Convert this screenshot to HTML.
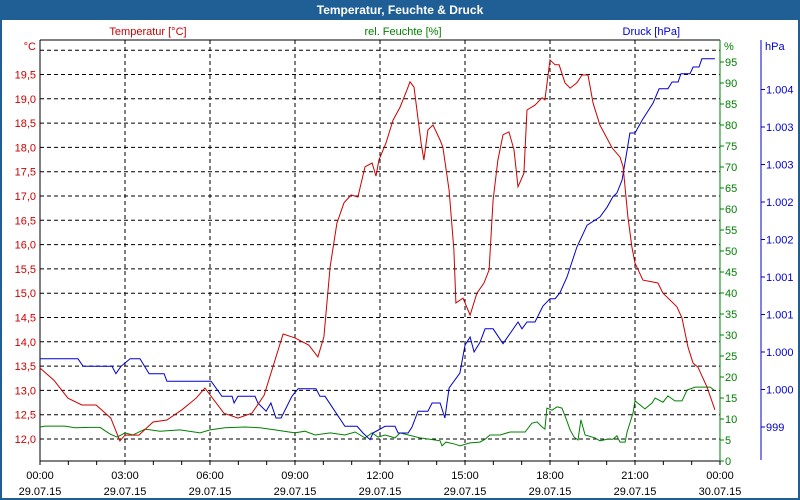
<!DOCTYPE html>
<html><head><meta charset="utf-8"><style>
body{margin:0;background:#fff;}
svg{display:block;font-family:"Liberation Sans",sans-serif;}
</style></head><body>
<svg id="chart" width="800" height="500" viewBox="0 0 800 500">
<rect x="0" y="0" width="800" height="500" fill="#1f5f96"/>
<rect x="2" y="20" width="796" height="478" fill="#fff"/>
<text x="400" y="14" text-anchor="middle" font-size="12" font-weight="bold" fill="#fff">Temperatur, Feuchte &amp; Druck</text>
<text x="148" y="35" text-anchor="middle" font-size="11" fill="#cc0000">Temperatur [°C]</text>
<text x="403" y="35" text-anchor="middle" font-size="11" fill="#008000">rel. Feuchte [%]</text>
<text x="680" y="35" text-anchor="end" font-size="11" fill="#0000cc">Druck [hPa]</text>
<g id="grid"></g>
<g id="axes"></g>
<g id="series"></g>
</svg>
<script>
const xTickLabels = ["00:00","03:00","06:00","09:00","12:00","15:00","18:00","21:00","00:00"];
const xDateLabels = ["29.07.15","29.07.15","29.07.15","29.07.15","29.07.15","29.07.15","29.07.15","29.07.15","30.07.15"];
const tempTicks = [12.0,12.5,13.0,13.5,14.0,14.5,15.0,15.5,16.0,16.5,17.0,17.5,18.0,18.5,19.0,19.5];
const humTicks = [0,5,10,15,20,25,30,35,40,45,50,55,60,65,70,75,80,85,90,95];
const presTicks = [999,999.5,1000,1000.5,1001,1001.5,1002,1002.5,1003,1003.5];

const tempTimes = [0,0.49,0.99,1.48,1.98,2.5,2.82,3.0,3.49,3.99,4.48,5.01,5.51,5.82,6.49,6.99,7.48,7.91,8.58,9.0,9.49,9.81,10.02,10.24,10.48,10.73,10.98,11.22,11.47,11.72,11.86,11.96,12.21,12.46,12.71,12.95,13.06,13.2,13.45,13.55,13.69,13.87,14.12,14.22,14.44,14.61,14.68,14.93,15.18,15.42,15.67,15.85,15.99,16.16,16.34,16.55,16.73,16.87,17.08,17.19,17.47,17.72,17.82,18.0,18.18,18.32,18.53,18.71,18.95,19.13,19.34,19.52,19.76,20.19,20.47,20.58,20.75,20.89,21.0,21.28,21.81,21.99,22.48,22.66,22.87,23.05,23.22,23.54,23.82];
const tempValues = [13.46,13.21,12.84,12.70,12.70,12.43,11.96,12.08,12.08,12.35,12.39,12.60,12.84,13.05,12.53,12.43,12.53,12.9,14.16,14.08,13.93,13.69,14.1,15.54,16.44,16.86,17.02,16.98,17.6,17.68,17.41,17.74,18.09,18.56,18.83,19.18,19.35,19.24,18.09,17.74,18.36,18.46,18.15,18.0,17.12,15.89,14.80,14.9,14.55,15.0,15.21,15.48,16.92,17.74,18.26,18.32,17.95,17.19,17.47,18.77,18.87,19.02,18.98,19.8,19.70,19.70,19.33,19.22,19.33,19.49,19.49,18.91,18.46,17.99,17.80,17.6,16.57,15.95,15.62,15.27,15.21,15.0,14.72,14.49,13.89,13.56,13.48,13.07,12.60];

const humTimes = [0,0.18,0.88,1.24,1.76,2.12,2.47,2.72,3.0,3.28,3.71,4.24,4.94,5.65,6.0,6.53,7.24,7.76,8.29,9.0,9.35,9.71,10.24,10.76,11.12,11.47,11.72,11.93,12.18,12.53,12.71,13.41,13.76,14.12,14.19,14.33,14.65,14.82,15.18,15.53,15.71,15.88,16.24,16.59,17.12,17.36,17.54,17.72,17.82,17.89,18.07,18.25,18.42,18.56,18.71,18.85,18.99,19.09,19.24,19.59,19.76,20.01,20.22,20.36,20.47,20.65,20.72,20.93,21.0,21.35,21.6,21.71,21.99,22.16,22.41,22.66,22.84,23.12,23.65,23.79];
const humValues = [8.1,8.3,8.3,7.9,8.0,8.0,6.4,5.7,6.7,6.2,7.6,7.1,7.4,6.7,7.4,7.9,8.1,7.9,7.4,6.7,7.1,6.2,6.7,6.2,6.9,5.5,6.7,5.7,6.2,5.5,6.7,5.5,5.2,4.8,3.6,4.5,4.0,3.6,4.3,4.5,5.2,6.2,6.2,6.9,6.9,9.0,9.3,8.1,7.6,12.6,12.1,12.9,12.6,10.2,7.4,5.7,5.0,9.8,6.2,5.5,4.8,5.2,5.2,6.0,4.5,4.5,6.9,11.4,14.3,12.4,13.8,15.0,14.0,15.5,14.3,14.3,16.9,17.6,17.6,16.9];

const presTimes = [0,1.34,1.52,2.54,2.68,2.86,3.18,3.53,3.85,4.38,4.48,6.04,6.42,6.78,6.85,6.99,7.59,7.69,7.98,8.15,8.33,8.51,8.89,9.11,9.74,9.88,10.06,10.76,11.19,11.4,11.65,11.75,12.18,12.53,12.64,12.99,13.13,13.34,13.69,13.84,14.12,14.29,14.44,14.82,15.0,15.18,15.32,15.53,15.71,15.99,16.34,16.87,17.01,17.19,17.47,17.75,18.0,18.18,18.35,18.6,18.95,19.31,19.76,20.01,20.22,20.36,20.54,20.72,20.82,21.0,21.25,21.64,21.85,22.16,22.31,22.52,22.62,22.94,23.05,23.26,23.36,23.82];
const presValues = [999.91,999.91,999.81,999.81,999.71,999.81,999.91,999.91,999.71,999.71,999.61,999.61,999.41,999.41,999.32,999.41,999.41,999.32,999.21,999.32,999.12,999.12,999.41,999.51,999.51,999.41,999.41,999.01,999.01,998.92,998.83,998.92,999.01,999.01,998.92,998.92,999.0,999.21,999.21,999.32,999.32,999.12,999.52,999.72,1000.09,1000.2,1000.0,1000.13,1000.31,1000.31,1000.11,1000.4,1000.31,1000.4,1000.4,1000.61,1000.71,1000.71,1000.79,1001.0,1001.4,1001.69,1001.8,1001.93,1002.07,1002.12,1002.29,1002.69,1002.92,1002.92,1003.09,1003.32,1003.51,1003.51,1003.6,1003.6,1003.71,1003.71,1003.8,1003.8,1003.91,1003.91];

const NS = "http://www.w3.org/2000/svg";
const L = 40, R = 720, T = 40, B = 461;
const xs = h => L + (R - L) * h / 24;
const yT = v => 439 - (v - 12) * 48.6;
const yH = v => 461 - v * 4.2;
const yP = v => 427 - (v - 999) * 75;
function mk(tag, attrs, parent) {
  const e = document.createElementNS(NS, tag);
  for (const k in attrs) e.setAttribute(k, attrs[k]);
  parent.appendChild(e);
  return e;
}
const grid = document.getElementById('grid');
const axes = document.getElementById('axes');
const series = document.getElementById('series');

// horizontal grid lines (temperature scale) incl. 20.0
[...tempTicks, 20.0].forEach(v => {
  const l = mk('line', {x1: L, x2: R, y1: yT(v), y2: yT(v), stroke: '#000', 'stroke-dasharray': '4 3', 'stroke-width': 1}, grid);
  
  
});
// vertical grid lines
xTickLabels.forEach((t, i) => {
  if (i === 0 || i === 8) return;
  const x = xs(i * 3);
  const l = mk('line', {x1: x, x2: x, y1: T, y2: B, stroke: '#000', 'stroke-dasharray': '4 3', 'stroke-width': 1}, grid);
  
  
});

// axes lines
let a;
a = mk('line', {x1: L, x2: R, y1: T, y2: T, stroke: '#000'}, axes);
 
a = mk('line', {x1: L, x2: L, y1: T, y2: B + 1, stroke: '#000'}, axes);
 
a = mk('line', {x1: L, x2: R, y1: B, y2: B, stroke: '#000'}, axes);
 
a = mk('line', {x1: R, x2: R, y1: T, y2: B, stroke: '#008000'}, axes);
 
a = mk('line', {x1: 761, x2: 761, y1: T, y2: B - 1, stroke: '#0000cc'}, axes);
 

function label(x, y, txt, color, anchor, name) {
  const t = mk('text', {x: x, y: y, fill: color, 'font-size': 11, 'text-anchor': anchor}, axes);
  t.textContent = txt;
  
  
  return t;
}
label(36, 50, '°C', '#cc0000', 'end', 'temperature-unit');
tempTicks.forEach(v => {
  label(36, yT(v) + 4, v.toFixed(1).replace('.', ','), '#cc0000', 'end', 'temperature-tick-label');
});
label(724, 50, '%', '#008000', 'start', 'humidity-unit');
humTicks.forEach(v => {
  const y = yH(v);
  const tk = mk('line', {x1: R, x2: R + 4, y1: y, y2: y, stroke: '#008000'}, axes);
   
  label(725, y + 4, String(v), '#008000', 'start', 'humidity-tick-label');
});
label(765, 50, 'hPa', '#0000cc', 'start', 'pressure-unit');
presTicks.forEach(v => {
  const y = yP(v);
  const tk = mk('line', {x1: 761, x2: 765, y1: y, y2: y, stroke: '#0000cc'}, axes);
   
  const r = Math.round(v);
  const txt = r >= 1000 ? '1.' + String(r - 1000).padStart(3, '0') : String(r);
  label(766, y + 4, txt, '#0000cc', 'start', 'pressure-tick-label');
});
for (let h = 0; h <= 24; h++) {
  const x = xs(h);
  const tk = mk('line', {x1: x, x2: x, y1: B, y2: B + 4, stroke: '#000'}, axes);
   
}
xTickLabels.forEach((t, i) => {
  const x = xs(i * 3);
  label(x, 479, t, '#000', 'middle', 'x-time-label');
  label(x, 495, xDateLabels[i], '#000', 'middle', 'x-date-label');
});

function line(times, vals, yf, color, name) {
  const d = times.map((t, i) => (i ? 'L' : 'M') + xs(t).toFixed(1) + ' ' + yf(vals[i]).toFixed(1)).join(' ');
  const p = mk('path', {d: d, fill: 'none', stroke: color, 'stroke-width': 1}, series);
  
  
}
line(humTimes, humValues, yH, '#008000', 'humidity-line');
line(presTimes, presValues, yP, '#0000cc', 'pressure-line');
line(tempTimes, tempValues, yT, '#cc0000', 'temperature-line');
</script>
</body></html>
